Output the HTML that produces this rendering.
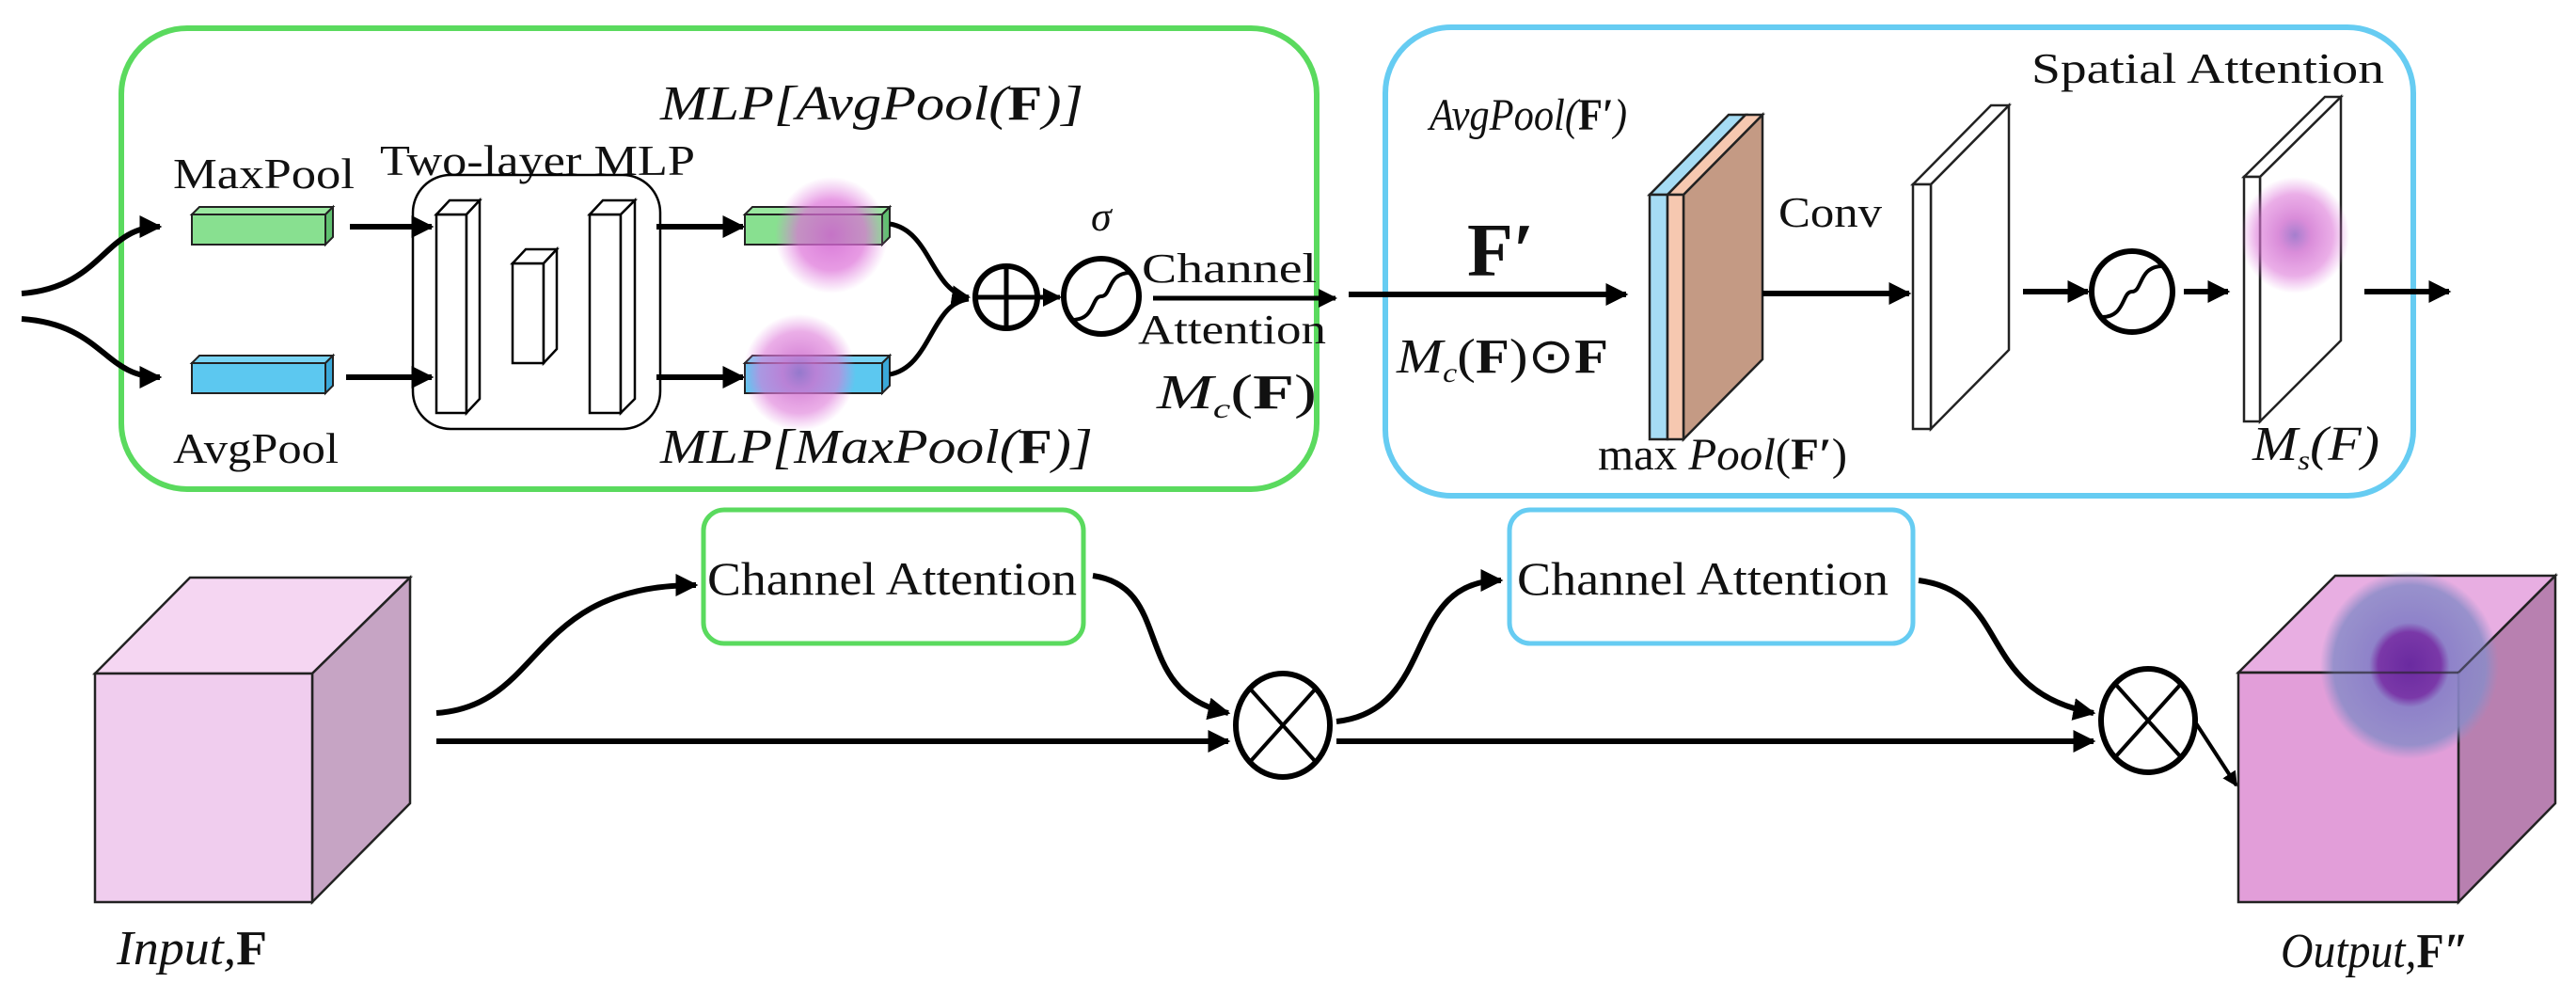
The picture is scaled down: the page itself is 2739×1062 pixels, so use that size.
<!DOCTYPE html>
<html><head><meta charset="utf-8"><style>
html,body{margin:0;padding:0;background:#fff;}
svg{display:block;}
text{font-family:"Liberation Serif","Times New Roman",Tinos,serif;fill:#111;}
</style></head><body>
<svg width="2739" height="1062" viewBox="0 0 2739 1062" xmlns="http://www.w3.org/2000/svg">
<defs>
<marker id="ah" viewBox="0 0 10 10" refX="9" refY="5" markerWidth="4" markerHeight="4" orient="auto" markerUnits="strokeWidth">
<path d="M0,0 L10,5 L0,10 z" fill="#000"/></marker>
<radialGradient id="pink"><stop offset="0" stop-color="#d060d0" stop-opacity="0.85"/><stop offset="0.6" stop-color="#dd70d8" stop-opacity="0.7"/><stop offset="1" stop-color="#e080e0" stop-opacity="0"/></radialGradient>
<radialGradient id="pinkc"><stop offset="0" stop-color="#9a70c8" stop-opacity="0.9"/><stop offset="0.3" stop-color="#d070d0" stop-opacity="0.8"/><stop offset="0.7" stop-color="#dd78d8" stop-opacity="0.6"/><stop offset="1" stop-color="#e080e0" stop-opacity="0"/></radialGradient>
<radialGradient id="outb"><stop offset="0" stop-color="#6a2aa0"/><stop offset="0.35" stop-color="#7a38a8"/><stop offset="0.45" stop-color="#8a80c8" stop-opacity="0.95"/><stop offset="0.85" stop-color="#8a8cc8" stop-opacity="0.85"/><stop offset="1" stop-color="#9090c8" stop-opacity="0"/></radialGradient>
</defs>

<rect x="129" y="30" width="1271" height="490" rx="70" fill="none" stroke="#5ada5e" stroke-width="6"/>
<rect x="1473" y="29" width="1093" height="498" rx="70" fill="none" stroke="#66ccf2" stroke-width="6"/>

<path d="M23,312 C110,305 110,241 170,241" fill="none" stroke="#000" stroke-width="6" marker-end="url(#ah)"/>
<path d="M23,339 C110,345 110,401 170,401" fill="none" stroke="#000" stroke-width="6" marker-end="url(#ah)"/>

<g stroke="#222" stroke-width="2">
<rect x="204" y="228" width="142" height="32" fill="#88e090"/>
<polygon points="204,228 212,220 354,220 346,228" fill="#9ae8a0"/>
<polygon points="346,228 354,220 354,252 346,260" fill="#60c070"/>
<rect x="204" y="386" width="142" height="32" fill="#5cc8f0"/>
<polygon points="204,386 212,378 354,378 346,386" fill="#78d4f4"/>
<polygon points="346,386 354,378 354,410 346,418" fill="#3aa8d8"/>
</g>
<text x="184" y="200" font-size="46" textLength="193" lengthAdjust="spacingAndGlyphs">MaxPool</text>
<text x="184" y="492" font-size="46" textLength="176" lengthAdjust="spacingAndGlyphs">AvgPool</text>
<text x="404" y="186" font-size="46" textLength="335" lengthAdjust="spacingAndGlyphs">Two-layer MLP</text>

<line x1="372" y1="241" x2="459" y2="241" stroke="#000" stroke-width="6" marker-end="url(#ah)"/>
<line x1="368" y1="401" x2="459" y2="401" stroke="#000" stroke-width="6" marker-end="url(#ah)"/>

<rect x="439" y="186" width="263" height="270" rx="40" fill="none" stroke="#000" stroke-width="2.5"/>
<g stroke="#000" stroke-width="2.5" fill="#fff">
<rect x="464" y="228" width="32" height="211"/><polygon points="464,228 478,213 510,213 496,228"/><polygon points="496,228 510,213 510,424 496,439"/>
<rect x="545" y="280" width="33" height="106"/><polygon points="545,280 559,265 592,265 578,280"/><polygon points="578,280 592,265 592,371 578,386"/>
<rect x="627" y="228" width="33" height="211"/><polygon points="627,228 641,213 675,213 660,228"/><polygon points="660,228 675,213 675,424 660,439"/>
</g>

<line x1="698" y1="241" x2="790" y2="241" stroke="#000" stroke-width="6" marker-end="url(#ah)"/>
<line x1="698" y1="401" x2="790" y2="401" stroke="#000" stroke-width="6" marker-end="url(#ah)"/>

<g stroke="#222" stroke-width="2">
<rect x="792" y="228" width="146" height="32" fill="#88e090"/>
<polygon points="792,228 800,220 946,220 938,228" fill="#9ae8a0"/>
<polygon points="938,228 946,220 946,252 938,260" fill="#60c070"/>
<rect x="792" y="386" width="146" height="32" fill="#5cc8f0"/>
<polygon points="792,386 800,378 946,378 938,386" fill="#78d4f4"/>
<polygon points="938,386 946,378 946,410 938,418" fill="#3aa8d8"/>
</g>
<ellipse cx="884" cy="250" rx="60" ry="62" fill="url(#pink)"/>
<ellipse cx="850" cy="396" rx="60" ry="62" fill="url(#pinkc)"/>

<text x="702" y="127" font-size="52" font-style="italic" textLength="450" lengthAdjust="spacingAndGlyphs">MLP[AvgPool(<tspan font-weight="bold" font-style="normal">F</tspan>)]</text>
<text x="702" y="492" font-size="52" font-style="italic" textLength="460" lengthAdjust="spacingAndGlyphs">MLP[MaxPool(<tspan font-weight="bold" font-style="normal">F</tspan>)]</text>

<path d="M946,238 C990,245 990,310 1030,316" fill="none" stroke="#000" stroke-width="5" marker-end="url(#ah)"/>
<path d="M946,398 C990,390 990,322 1030,318" fill="none" stroke="#000" stroke-width="5"/>
<circle cx="1070" cy="316" r="33" fill="#fff" stroke="#000" stroke-width="6"/>
<line x1="1037" y1="316" x2="1103" y2="316" stroke="#000" stroke-width="5"/>
<line x1="1070" y1="283" x2="1070" y2="349" stroke="#000" stroke-width="5"/>
<line x1="1103" y1="316" x2="1127" y2="316" stroke="#000" stroke-width="5" marker-end="url(#ah)"/>
<circle cx="1171" cy="315" r="40" fill="#fff" stroke="#000" stroke-width="6"/>
<path d="M1140,340 C1165,340 1160,315 1171,315 C1182,315 1177,290 1202,290" fill="none" stroke="#000" stroke-width="4"/>
<text x="1160" y="245" font-size="44" font-style="italic">σ</text>
<text x="1214" y="300" font-size="44" textLength="186" lengthAdjust="spacingAndGlyphs">Channel</text>
<text x="1210" y="365" font-size="44" textLength="200" lengthAdjust="spacingAndGlyphs">Attention</text>
<text x="1230" y="434" font-size="52" font-style="italic" textLength="170" lengthAdjust="spacingAndGlyphs">M<tspan font-size="30" dy="10">c</tspan><tspan dy="-10" font-style="normal">(<tspan font-weight="bold">F</tspan>)</tspan></text>
<line x1="1226" y1="317" x2="1420" y2="317" stroke="#000" stroke-width="5" marker-end="url(#ah)"/>

<line x1="1434" y1="313" x2="1729" y2="313" stroke="#000" stroke-width="6" marker-end="url(#ah)"/>
<text x="1520" y="138" font-size="48" font-style="italic" textLength="210" lengthAdjust="spacingAndGlyphs">AvgPool(<tspan font-weight="bold" font-style="normal">F′</tspan>)</text>
<text x="1560" y="293" font-size="80" font-weight="bold">F′</text>
<text x="1485" y="396" font-size="52" font-style="italic" textLength="225" lengthAdjust="spacingAndGlyphs">M<tspan font-size="30" dy="10">c</tspan><tspan dy="-10" font-style="normal">(<tspan font-weight="bold">F</tspan>)⊙<tspan font-weight="bold">F</tspan></tspan></text>

<g stroke="#222" stroke-width="2.5">
<polygon points="1790,207 1874,122 1874,382 1790,467" fill="#c49a84"/>
<polygon points="1754,207 1838,122 1856,122 1773,207" fill="#a6dcf4"/>
<polygon points="1773,207 1856,122 1874,122 1790,207" fill="#f6c8b0"/>
<rect x="1754" y="207" width="19" height="260" fill="#a6dcf4"/>
<rect x="1773" y="207" width="17" height="260" fill="#f6c8b0"/>
</g>
<text x="1699" y="499" font-size="48" textLength="265" lengthAdjust="spacingAndGlyphs">max <tspan font-style="italic">Pool</tspan>(<tspan font-weight="bold">F′</tspan>)</text>
<text x="1891" y="241" font-size="46" textLength="110" lengthAdjust="spacingAndGlyphs">Conv</text>
<line x1="1874" y1="312" x2="2030" y2="312" stroke="#000" stroke-width="6" marker-end="url(#ah)"/>

<g stroke="#222" stroke-width="2.5" fill="#fff">
<polygon points="2053,196 2136,112 2136,372 2053,456"/>
<polygon points="2034,196 2117,112 2136,112 2053,196"/>
<rect x="2034" y="196" width="19" height="260"/>
</g>
<line x1="2151" y1="310" x2="2220" y2="310" stroke="#000" stroke-width="6" marker-end="url(#ah)"/>
<circle cx="2267" cy="310" r="43" fill="#fff" stroke="#000" stroke-width="6"/>
<path d="M2235,337 C2260,337 2256,310 2267,310 C2278,310 2274,283 2299,283" fill="none" stroke="#000" stroke-width="4"/>
<line x1="2322" y1="310" x2="2369" y2="310" stroke="#000" stroke-width="6" marker-end="url(#ah)"/>

<g stroke="#222" stroke-width="2.5" fill="#fff">
<polygon points="2403,188 2489,103 2489,362 2403,448"/>
<polygon points="2386,188 2472,103 2489,103 2403,188"/>
<rect x="2386" y="188" width="17" height="260"/>
</g>
<ellipse cx="2440" cy="250" rx="58" ry="62" fill="url(#pinkc)"/>
<text x="2160" y="88" font-size="46" textLength="375" lengthAdjust="spacingAndGlyphs">Spatial Attention</text>
<text x="2395" y="489" font-size="52" font-style="italic" textLength="135" lengthAdjust="spacingAndGlyphs">M<tspan font-size="30" dy="10">s</tspan><tspan dy="-10">(F)</tspan></text>
<line x1="2514" y1="310" x2="2604" y2="310" stroke="#000" stroke-width="6" marker-end="url(#ah)"/>

<rect x="748" y="542" width="404" height="142" rx="22" fill="none" stroke="#5ada5e" stroke-width="5"/>
<text x="752" y="632" font-size="50" textLength="393" lengthAdjust="spacingAndGlyphs">Channel Attention</text>
<rect x="1605" y="542" width="429" height="142" rx="22" fill="none" stroke="#66ccf2" stroke-width="5"/>
<text x="1613" y="632" font-size="50" textLength="395" lengthAdjust="spacingAndGlyphs">Channel Attention</text>

<g stroke="#222" stroke-width="2.5">
<polygon points="101,716 202,614 436,614 332,716" fill="#f5d6f2"/>
<polygon points="332,716 436,614 436,854 332,959" fill="#c6a4c4"/>
<rect x="101" y="716" width="231" height="243" fill="#f0cdee"/>
</g>
<text x="124" y="1025" font-size="52" font-style="italic" textLength="160" lengthAdjust="spacingAndGlyphs">Input,<tspan font-weight="bold" font-style="normal">F</tspan></text>

<path d="M464,758 C580,750 560,622 740,622" fill="none" stroke="#000" stroke-width="6" marker-end="url(#ah)"/>
<line x1="464" y1="788" x2="1306" y2="788" stroke="#000" stroke-width="6" marker-end="url(#ah)"/>
<path d="M1162,612 C1250,625 1200,735 1306,758" fill="none" stroke="#000" stroke-width="6" marker-end="url(#ah)"/>
<ellipse cx="1364" cy="771" rx="50" ry="55" fill="#fff" stroke="#000" stroke-width="6"/>
<line x1="1329" y1="732" x2="1399" y2="810" stroke="#000" stroke-width="4"/>
<line x1="1399" y1="732" x2="1329" y2="810" stroke="#000" stroke-width="4"/>

<path d="M1421,767 C1530,755 1490,617 1596,617" fill="none" stroke="#000" stroke-width="6" marker-end="url(#ah)"/>
<line x1="1421" y1="788" x2="2226" y2="788" stroke="#000" stroke-width="6" marker-end="url(#ah)"/>
<path d="M2040,617 C2140,630 2100,735 2226,758" fill="none" stroke="#000" stroke-width="6" marker-end="url(#ah)"/>
<ellipse cx="2284" cy="766" rx="50" ry="55" fill="#fff" stroke="#000" stroke-width="6"/>
<line x1="2249" y1="727" x2="2319" y2="805" stroke="#000" stroke-width="4"/>
<line x1="2319" y1="727" x2="2249" y2="805" stroke="#000" stroke-width="4"/>
<line x1="2335" y1="769" x2="2378" y2="835" stroke="#000" stroke-width="4" marker-end="url(#ah)"/>

<g stroke="#222" stroke-width="2.5">
<polygon points="2380,715 2483,612 2717,612 2614,715" fill="#e8aee2"/>
<polygon points="2614,715 2717,612 2717,854 2614,959" fill="#b880b0"/>
<rect x="2380" y="715" width="234" height="244" fill="#e29ed9"/>
</g>
<ellipse cx="2562" cy="707" rx="95" ry="100" fill="url(#outb)"/>
<line x1="2380" y1="715" x2="2614" y2="715" stroke="#222" stroke-width="2.5" opacity="0.6"/>
<line x1="2614" y1="715" x2="2717" y2="612" stroke="#222" stroke-width="2.5" opacity="0.6"/>
<text x="2425" y="1028" font-size="52" font-style="italic" textLength="200" lengthAdjust="spacingAndGlyphs">Output,<tspan font-weight="bold" font-style="normal">F″</tspan></text>
</svg>
</body></html>
